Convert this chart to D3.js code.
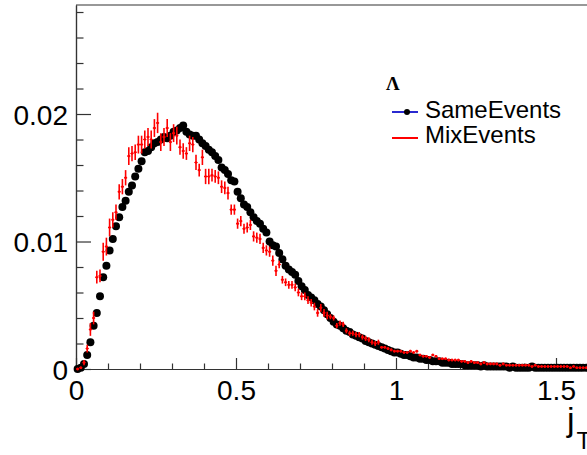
<!DOCTYPE html>
<html>
<head>
<meta charset="utf-8">
<script src="https://cdn.jsdelivr.net/npm/d3@7/dist/d3.min.js"></script>
<style>
  html, body { margin: 0; padding: 0; background: #fff; }
  svg { display: block; }
  text { font-family: "Liberation Sans", Arial, Helvetica, sans-serif; fill: #000; }
</style>
</head>
<body>
<svg id="chart" width="587" height="455"></svg>
<script>
// ---- data (histogram bins of width 0.01, starting at 0) ----
const binWidth = 0.01;
const seriesNames = ["SameEvents", "MixEvents"];
const sameEvents = [
  0.0000, 0.0001, 0.0004, 0.0011, 0.0021, 0.0034, 0.0044, 0.0057, 0.0072, 0.0081,
  0.0093, 0.0102, 0.0112, 0.0119, 0.0127, 0.0132, 0.0139, 0.0144, 0.0151, 0.0157,
  0.0163, 0.0170, 0.0171, 0.0174, 0.0177, 0.0178, 0.0180, 0.0182, 0.0181, 0.0183,
  0.0186, 0.0187, 0.0189, 0.0191, 0.0186, 0.0184, 0.0183, 0.0183, 0.0180, 0.0177,
  0.0175, 0.0172, 0.0170, 0.0167, 0.0164, 0.0158, 0.0156, 0.0153, 0.0148, 0.0147,
  0.0139, 0.0134, 0.0129, 0.0127, 0.0123, 0.0119, 0.0116, 0.0114, 0.0110, 0.0107,
  0.0100, 0.0097, 0.0096, 0.0091, 0.0086, 0.0081, 0.0078, 0.0076, 0.0074, 0.0069,
  0.0065, 0.0062, 0.0058, 0.0056, 0.0054, 0.0051, 0.0049, 0.0046, 0.0043, 0.0040,
  0.0037, 0.0035, 0.0034, 0.0032, 0.0030, 0.0029, 0.0027, 0.0026, 0.0025, 0.0024,
  0.0022, 0.0021, 0.0020, 0.0019, 0.0018, 0.0017, 0.0016, 0.0015, 0.0014, 0.0013,
  0.0013, 0.0012, 0.0011, 0.0011, 0.0010, 0.0009, 0.0009, 0.0008, 0.0008, 0.0007,
  0.0007, 0.0006, 0.0006, 0.0006, 0.0005, 0.0005, 0.0005, 0.0004, 0.0004, 0.0004,
  0.0004, 0.0003, 0.0003, 0.0003, 0.0003, 0.0003, 0.0002, 0.0003, 0.0002, 0.0002,
  0.0002, 0.0002, 0.0002, 0.0002, 0.0002, 0.0001, 0.0002, 0.0001, 0.0001, 0.0001,
  0.0001, 0.0001, 0.0002, 0.0001, 0.0001, 0.0001, 0.0001, 0.0001, 0.0001, 0.0001,
  0.0001, 0.0001, 0.0001, 0.0001, 0.0001, 0.0001, 0.0001, 0.0001, 0.0001, 0.0001
];
const mixEvents = [
  0.0000, 0.0001, 0.0005, 0.0016, 0.0031, 0.0040, 0.0072, 0.0073, 0.0092, 0.0096,
  0.0111, 0.0117, 0.0123, 0.0139, 0.0143, 0.0150, 0.0167, 0.0169, 0.0170, 0.0176,
  0.0176, 0.0180, 0.0182, 0.0180, 0.0189, 0.0193, 0.0178, 0.0182, 0.0189, 0.0178,
  0.0185, 0.0183, 0.0174, 0.0171, 0.0169, 0.0177, 0.0176, 0.0162, 0.0156, 0.0166,
  0.0151, 0.0151, 0.0152, 0.0151, 0.0150, 0.0143, 0.0142, 0.0138, 0.0125, 0.0125,
  0.0114, 0.0116, 0.0110, 0.0111, 0.0113, 0.0104, 0.0103, 0.0102, 0.0095, 0.0093,
  0.0092, 0.0085, 0.0077, 0.0082, 0.0070, 0.0068, 0.0066, 0.0066, 0.0064, 0.0060,
  0.0057, 0.0057, 0.0054, 0.0052, 0.0049, 0.0044, 0.0048, 0.0044, 0.0042, 0.0041,
  0.0040, 0.0034, 0.0036, 0.0035, 0.0030, 0.0028, 0.0028, 0.0027, 0.0027, 0.0025,
  0.0024, 0.0023, 0.0021, 0.0020, 0.0021, 0.0017, 0.0017, 0.0016, 0.0015, 0.0014,
  0.0014, 0.0014, 0.0013, 0.0013, 0.0014, 0.0013, 0.0014, 0.0011, 0.0010, 0.0010,
  0.0009, 0.0011, 0.0010, 0.0008, 0.0008, 0.0008, 0.0007, 0.0007, 0.0007, 0.0007,
  0.0006, 0.0006, 0.0005, 0.0006, 0.0005, 0.0005, 0.0004, 0.0005, 0.0004, 0.0004,
  0.0004, 0.0004, 0.0003, 0.0004, 0.0003, 0.0003, 0.0003, 0.0003, 0.0003, 0.0003,
  0.0003, 0.0003, 0.0002, 0.0003, 0.0002, 0.0002, 0.0002, 0.0002, 0.0002, 0.0002,
  0.0002, 0.0002, 0.0002, 0.0002, 0.0001, 0.0002, 0.0001, 0.0001, 0.0001, 0.0001
];
const mixErrors = [
  0.0001, 0.0001, 0.0002, 0.0003, 0.0005, 0.0005, 0.0005, 0.0005, 0.0007, 0.0007,
  0.0007, 0.0006, 0.0006, 0.0006, 0.0006, 0.0006, 0.0007, 0.0006, 0.0006, 0.0007,
  0.0007, 0.0007, 0.0007, 0.0007, 0.0007, 0.0008, 0.0007, 0.0007, 0.0007, 0.0007,
  0.0007, 0.0007, 0.0006, 0.0006, 0.0005, 0.0006, 0.0006, 0.0006, 0.0005, 0.0006,
  0.0006, 0.0006, 0.0005, 0.0005, 0.0005, 0.0005, 0.0005, 0.0005, 0.0004, 0.0004,
  0.0004, 0.0004, 0.0004, 0.0004, 0.0004, 0.0004, 0.0004, 0.0004, 0.0004, 0.0004,
  0.0004, 0.0004, 0.0004, 0.0003, 0.0003, 0.0003, 0.0003, 0.0003, 0.0003, 0.0003,
  0.0003, 0.0003, 0.0003, 0.0003, 0.0003, 0.0003, 0.0003, 0.0003, 0.0003, 0.0002,
  0.0002, 0.0002, 0.0002, 0.0002, 0.0002, 0.0002, 0.0002, 0.0002, 0.0002, 0.0002,
  0.0002, 0.0002, 0.0002, 0.0002, 0.0002, 0.0001, 0.0001, 0.0001, 0.0001, 0.0001,
  0.0001, 0.0001, 0.0001, 0.0001, 0.0001, 0.0001, 0.0001, 0.0001, 0.0001, 0.0001,
  0.0001, 0.0001, 0.0001, 0.0001, 0.0001, 0.0001, 0.0001, 0.0001, 0.0001, 0.0001,
  0.0001, 0.0001, 0.0001, 0.0001, 0.0001, 0.0001, 0.0001, 0.0001, 0.0001, 0.0001,
  0.0001, 0.0001, 0.0001, 0.0001, 0.0001, 0.0001, 0.0001, 0.0001, 0.0001, 0.0001,
  0.0001, 0.0001, 0.0001, 0.0001, 0.0001, 0.0001, 0.0001, 0.0001, 0.0001, 0.0001,
  0.0001, 0.0001, 0.0001, 0.0001, 0.0001, 0.0001, 0.0001, 0.0001, 0.0001, 0.0001
];
const xMajorTicks = [0, 0.5, 1, 1.5];
const xTickLabels = ["0", "0.5", "1", "1.5"];
const xMinorTicks = [0.1, 0.2, 0.3, 0.4, 0.6, 0.7, 0.8, 0.9, 1.1, 1.2, 1.3, 1.4, 1.6];
const yMajorTicks = [0, 0.01, 0.02];
const yTickLabels = ["0", "0.01", "0.02"];
const yMinorTicks = [0.002, 0.004, 0.006, 0.008, 0.012, 0.014, 0.016, 0.018, 0.022, 0.024, 0.026, 0.028];
const legendTitle = "Λ";
const xTitle = "j";
const xTitleSub = "T";

// ---- layout ----
const svg = d3.select("#chart");
const X0 = 76, X1 = 588, Y0 = 369, Y1 = 5;
const x = d3.scaleLinear().domain([0, 1.6]).range([X0, X1]);
const y = d3.scaleLinear().domain([0, 0.02855]).range([Y0, Y1]);
const axisColor = "#333";

svg.append("rect").attr("width", 587).attr("height", 455).attr("fill", "#fff");

// frame
svg.append("path")
  .attr("d", `M${X0},${Y1}H${X1}V${Y0}`)
  .attr("fill", "none").attr("stroke", axisColor).attr("stroke-width", 1.2);

// y axis
const yAxisMajor = d3.axisLeft(y).tickValues(yMajorTicks)
  .tickFormat((d, i) => yTickLabels[i]).tickSize(-15).tickSizeOuter(0).tickPadding(8);
const yAxisMinor = d3.axisLeft(y).tickValues(yMinorTicks)
  .tickFormat("").tickSize(-7.5).tickSizeOuter(0);
const gyMin = svg.append("g").attr("transform", `translate(${X0},0)`).call(yAxisMinor);
const gy = svg.append("g").attr("transform", `translate(${X0},0)`).call(yAxisMajor);
[gy, gyMin].forEach(g => {
  g.selectAll("line").attr("stroke", axisColor).attr("stroke-width", 1.2);
  g.select(".domain").attr("stroke", axisColor).attr("stroke-width", 1.2);
});
gy.selectAll("text").attr("font-size", 28).attr("dy", "0.36em")
  .style("font-family", "'Liberation Sans', Arial, sans-serif").attr("fill", "#000");

// x axis
const xAxisMajor = d3.axisBottom(x).tickValues(xMajorTicks)
  .tickFormat((d, i) => xTickLabels[i]).tickSize(-11).tickSizeOuter(0).tickPadding(11);
const xAxisMinor = d3.axisBottom(x).tickValues(xMinorTicks)
  .tickFormat("").tickSize(-5.5).tickSizeOuter(0);
const gxMin = svg.append("g").attr("transform", `translate(0,${Y0})`).call(xAxisMinor);
const gx = svg.append("g").attr("transform", `translate(0,${Y0})`).call(xAxisMajor);
[gx, gxMin].forEach(g => {
  g.selectAll("line").attr("stroke", axisColor).attr("stroke-width", 1.2);
  g.select(".domain").attr("stroke", axisColor).attr("stroke-width", 1.2);
});
gx.selectAll("text").attr("font-size", 28)
  .style("font-family", "'Liberation Sans', Arial, sans-serif").attr("fill", "#000");

// x title (j with subscript T, partly cut by the right edge as in the reference)
const xt = svg.append("text").attr("x", 567).attr("y", 431).attr("font-size", 34);
xt.append("tspan").text(xTitle);
xt.append("tspan").attr("font-size", 24).attr("dx", 2).attr("dy", 18).text(xTitleSub);

// ---- data marks ----
const plot = svg.append("g");
const binCenter = i => (i + 0.5) * binWidth;

// SameEvents: black filled circles
plot.append("g").selectAll("circle")
  .data(sameEvents)
  .join("circle")
  .attr("cx", (d, i) => x(binCenter(i)))
  .attr("cy", d => y(d))
  .attr("r", 4)
  .attr("fill", "#000");

// MixEvents: red error bars with small markers
const red = "#ff0000";
const mixG = plot.append("g");
mixEvents.forEach((v, i) => {
  const cx = x(binCenter(i));
  const e = mixErrors[i];
  mixG.append("line")
    .attr("x1", cx).attr("x2", cx)
    .attr("y1", y(v - e)).attr("y2", y(v + e))
    .attr("stroke", red).attr("stroke-width", 1.6);
  mixG.append("line")
    .attr("x1", x(binCenter(i) - binWidth / 2)).attr("x2", x(binCenter(i) + binWidth / 2))
    .attr("y1", y(v)).attr("y2", y(v))
    .attr("stroke", red).attr("stroke-width", 1);
  mixG.append("circle")
    .attr("cx", cx).attr("cy", y(v)).attr("r", 1.3).attr("fill", red);
});

// ---- legend ----
const lg = svg.append("g");
lg.append("text")
  .attr("x", 386).attr("y", 90)
  .style("font-family", "'Liberation Serif', 'DejaVu Serif', serif")
  .style("font-size", "19px").style("font-weight", "bold")
  .text(legendTitle);
lg.append("line").attr("x1", 392).attr("x2", 418).attr("y1", 112).attr("y2", 112)
  .attr("stroke", "#2a2ad0").attr("stroke-width", 2);
lg.append("circle").attr("cx", 407).attr("cy", 112).attr("r", 3).attr("fill", "#000");
lg.append("text").attr("x", 425).attr("y", 118).attr("font-size", 24).text(seriesNames[0]);
lg.append("line").attr("x1", 392).attr("x2", 418).attr("y1", 138).attr("y2", 138)
  .attr("stroke", red).attr("stroke-width", 2);
lg.append("text").attr("x", 425).attr("y", 143).attr("font-size", 24).text(seriesNames[1]);
</script>
</body>
</html>
